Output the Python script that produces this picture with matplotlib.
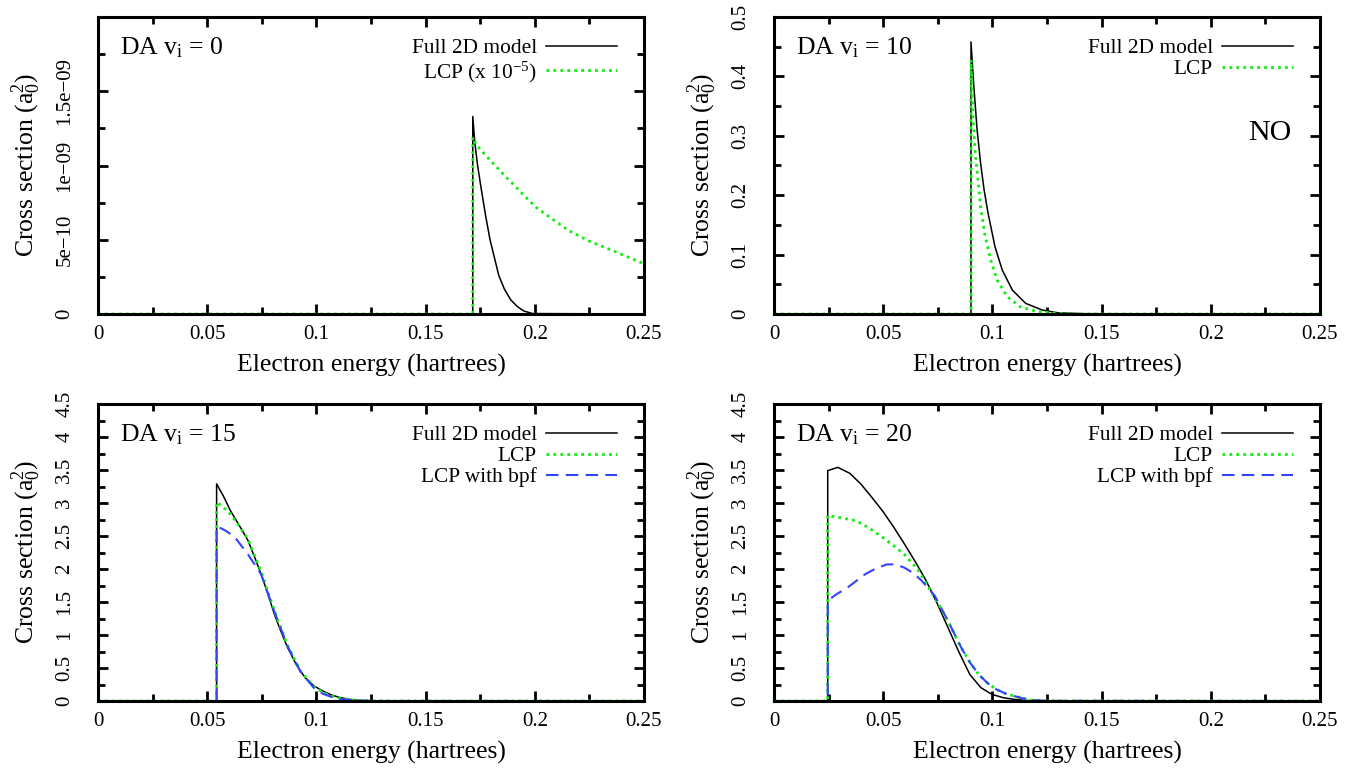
import matplotlib
matplotlib.use("Agg")
import matplotlib.pyplot as plt
from matplotlib.ticker import MultipleLocator

plt.rcParams['font.family'] = 'serif'
plt.rcParams['font.serif'] = ['Liberation Serif', 'DejaVu Serif']
plt.rcParams['mathtext.fontset'] = 'custom'
plt.rcParams['mathtext.rm'] = 'Liberation Serif'
plt.rcParams['mathtext.it'] = 'Liberation Serif:italic'
plt.rcParams['mathtext.bf'] = 'Liberation Serif:bold'

GREEN = '#11ee11'
BLUE = '#3344ff'

# ---- data: v_i = 0 (values in a0^2; LCP already scaled by 1e-5)
x0_full = [0, 0.1716, 0.1716, 0.1725, 0.1738, 0.1755, 0.1775, 0.1795, 0.1815, 0.1835,
           0.186, 0.189, 0.192, 0.195, 0.199, 0.25]
y0_full = [0, 0, 1.33e-9, 1.16e-9, 1.00e-9, 0.84e-9, 0.66e-9, 0.50e-9, 0.38e-9, 0.26e-9,
           0.17e-9, 0.095e-9, 0.05e-9, 0.02e-9, 0.003e-9, 0]
x0_lcp = [0, 0.1716, 0.1716, 0.1732, 0.178, 0.1853, 0.193, 0.2004, 0.208, 0.2154,
          0.225, 0.2355, 0.25]
y0_lcp = [0, 0, 1.19e-9, 1.14e-9, 1.06e-9, 0.946e-9, 0.83e-9, 0.72e-9, 0.64e-9, 0.563e-9,
          0.49e-9, 0.428e-9, 0.338e-9]

# ---- data: v_i = 10
x10_full = [0, 0.0902, 0.0902, 0.0915, 0.0930, 0.0946, 0.0962, 0.0980, 0.1012, 0.1045,
            0.1092, 0.1152, 0.1228, 0.1300, 0.142, 0.25]
y10_full = [0, 0, 0.458, 0.383, 0.310, 0.254, 0.209, 0.170, 0.113, 0.074,
            0.040, 0.018, 0.0067, 0.002, 0.0005, 0]
x10_lcp = [0, 0.0902, 0.0902, 0.0912, 0.0922, 0.0934, 0.0946, 0.0964, 0.0992, 0.1022,
           0.1068, 0.1128, 0.1205, 0.131, 0.14, 0.25]
y10_lcp = [0, 0, 0.428, 0.327, 0.270, 0.226, 0.181, 0.136, 0.091, 0.057,
           0.029, 0.012, 0.004, 0.001, 0, 0]

# ---- data: v_i = 15
x15_full = [0, 0.0543, 0.0543, 0.0575, 0.0607, 0.0647, 0.0687, 0.0717, 0.0747, 0.0778,
            0.0808, 0.0838, 0.0868, 0.0908, 0.0948, 0.0988, 0.1029, 0.107, 0.111, 0.115,
            0.119, 0.125, 0.25]
y15_full = [0, 0, 3.29, 3.10, 2.88, 2.66, 2.43, 2.18, 1.92, 1.62,
            1.31, 1.05, 0.81, 0.55, 0.354, 0.23, 0.152, 0.09, 0.05, 0.025,
            0.01, 0.002, 0]
x15_lcp = [0, 0.0543, 0.0543, 0.057, 0.0607, 0.0647, 0.0687, 0.0747, 0.0808, 0.0868,
           0.0928, 0.0988, 0.1029, 0.107, 0.111, 0.115, 0.12, 0.13, 0.25]
y15_lcp = [0, 0, 3.01, 2.95, 2.83, 2.65, 2.45, 1.96, 1.36, 0.84,
           0.45, 0.22, 0.13, 0.075, 0.04, 0.02, 0.007, 0.001, 0]
x15_bpf = [0, 0.0543, 0.0543, 0.0585, 0.0627, 0.0687, 0.0747, 0.0808, 0.0868, 0.0928,
           0.0988, 0.1029, 0.107, 0.111, 0.115, 0.12, 0.13, 0.25]
y15_bpf = [0, 0, 2.65, 2.58, 2.48, 2.22, 1.92, 1.35, 0.83, 0.44,
           0.2, 0.11, 0.06, 0.03, 0.015, 0.005, 0.001, 0]

# ---- data: v_i = 20
x20_full = [0, 0.0246, 0.0246, 0.0292, 0.0347, 0.0397, 0.0447, 0.0497, 0.0547, 0.0597,
            0.0647, 0.0697, 0.0747, 0.0797, 0.0847, 0.0897, 0.0948, 0.0998, 0.105, 0.11,
            0.115, 0.12, 0.25]
y20_full = [0, 0, 3.49, 3.54, 3.45, 3.29, 3.09, 2.88, 2.64, 2.38,
            2.11, 1.82, 1.48, 1.11, 0.74, 0.40, 0.20, 0.10, 0.05, 0.025,
            0.01, 0.002, 0]
x20_lcp = [0, 0.0246, 0.0246, 0.0317, 0.0377, 0.0437, 0.0497, 0.0557, 0.0597, 0.0657,
           0.0717, 0.0757, 0.0797, 0.0857, 0.0898, 0.0938, 0.0978, 0.1018, 0.1058, 0.1098,
           0.114, 0.118, 0.125, 0.25]
y20_lcp = [0, 0, 2.81, 2.77, 2.73, 2.62, 2.48, 2.33, 2.22, 2.0,
           1.67, 1.45, 1.21, 0.81, 0.58, 0.40, 0.27, 0.177, 0.115, 0.076,
           0.04, 0.015, 0.003, 0]
x20_bpf = [0, 0.0246, 0.0246, 0.0287, 0.0337, 0.0377, 0.0417, 0.0467, 0.0517, 0.0557,
           0.0597, 0.0637, 0.0677, 0.0737, 0.0797, 0.0857, 0.0898, 0.0938, 0.0978, 0.1018,
           0.1058, 0.1098, 0.114, 0.118, 0.125, 0.25]
y20_bpf = [0, 0, 1.52, 1.62, 1.72, 1.82, 1.92, 2.01, 2.07, 2.07,
           2.02, 1.94, 1.82, 1.59, 1.21, 0.81, 0.58, 0.40, 0.27, 0.177,
           0.115, 0.076, 0.04, 0.015, 0.003, 0]

titles = [r'DA v$_{\mathrm{i}}$ = 0', r'DA v$_{\mathrm{i}}$ = 10',
          r'DA v$_{\mathrm{i}}$ = 15', r'DA v$_{\mathrm{i}}$ = 20']
y0_ticks = [0, 5e-10, 1e-9, 1.5e-9]
y0_ticklabels = ['0', '5e\u221210', '1e\u221209', '1.5e\u221209']
x_ticklabels = ['0', '0.05', '0.1', '0.15', '0.2', '0.25']

fig = plt.figure(figsize=(13.68, 7.76), dpi=100)
W, H = 1368, 776
boxes = [(98, 17), (774, 17), (98, 404), (774, 404)]
axes = [fig.add_axes([l / W, 1 - (t + 297) / H, 546 / W, 297 / H]) for l, t in boxes]


def style(ax, title):
    ax.set_xlim(0, 0.25)
    ax.set_xticks([0, 0.05, 0.1, 0.15, 0.2, 0.25])
    ax.set_xticklabels(x_ticklabels)
    ax.xaxis.set_minor_locator(MultipleLocator(0.025))
    ax.tick_params(which='both', direction='in', top=True, right=True, width=2.0)
    ax.tick_params(which='major', length=7, labelsize=15)
    ax.tick_params(which='minor', length=5)
    ax.tick_params(axis='x', pad=8)
    ax.tick_params(axis='y', labelrotation=90, pad=17)
    for lab in ax.get_yticklabels():
        lab.set_va('center')
    for s in ax.spines.values():
        s.set_linewidth(2.2)
    ax.set_xlabel('Electron energy (hartrees)', fontsize=18.5)
    ax.xaxis.set_label_coords(0.5, -0.135)
    ax.set_ylabel(r'Cross section (a$_0^2$)', fontsize=18.5)
    ax.yaxis.set_label_coords(-0.1, 0.5)
    ax.text(0.04, 0.875, title, transform=ax.transAxes, fontsize=18.5,
            ha='left', va='baseline')
    leg = ax.legend(loc='upper right', bbox_to_anchor=(0.9505, 0.928), frameon=False,
                    markerfirst=False, fontsize=15.4, handlelength=3.3,
                    handletextpad=0.45, labelspacing=0.05, borderpad=0.0,
                    borderaxespad=0.0)
    for col in leg._legend_handle_box.get_children():
        col.align = 'right'


full_kw = dict(color='black', lw=1.1)
lcp_kw = dict(color=GREEN, lw=2.0, linestyle=(0, (1, 1.5)))
bpf_kw = dict(color=BLUE, lw=1.5, linestyle=(0, (6, 3.5)))

ax = axes[0]
ax.plot(x0_full, y0_full, label='Full 2D model', **full_kw)
ax.plot(x0_lcp, y0_lcp, label=r'LCP (x 10$^{-5}$)', **lcp_kw)
ax.set_ylim(0, 2e-9)
ax.set_yticks(y0_ticks)
ax.set_yticklabels(y0_ticklabels)
ax.yaxis.set_minor_locator(MultipleLocator(2.5e-10))
style(ax, titles[0])

ax = axes[1]
ax.plot(x10_full, y10_full, label='Full 2D model', **full_kw)
ax.plot(x10_lcp, y10_lcp, label='LCP', **lcp_kw)
ax.set_ylim(0, 0.5)
ax.set_yticks([0, 0.1, 0.2, 0.3, 0.4, 0.5])
ax.set_yticklabels(['0', '0.1', '0.2', '0.3', '0.4', '0.5'])
ax.yaxis.set_minor_locator(MultipleLocator(0.05))
style(ax, titles[1])
ax.text(0.908, 0.61, 'NO', transform=ax.transAxes, fontsize=21.5, ha='center', va='center')

for ax, title, xf, yf, xl, yl, xb, yb in [
        (axes[2], titles[2], x15_full, y15_full, x15_lcp, y15_lcp, x15_bpf, y15_bpf),
        (axes[3], titles[3], x20_full, y20_full, x20_lcp, y20_lcp, x20_bpf, y20_bpf)]:
    ax.plot(xf, yf, label='Full 2D model', **full_kw)
    ax.plot(xl, yl, label='LCP', **lcp_kw)
    ax.plot(xb, yb, label='LCP with bpf', **bpf_kw)
    ax.set_ylim(0, 4.5)
    ticks = [0, 0.5, 1, 1.5, 2, 2.5, 3, 3.5, 4, 4.5]
    ax.set_yticks(ticks)
    ax.set_yticklabels(['0', '0.5', '1', '1.5', '2', '2.5', '3', '3.5', '4', '4.5'])
    ax.yaxis.set_minor_locator(MultipleLocator(0.25))
    style(ax, title)

fig.savefig('out.png', dpi=100)
